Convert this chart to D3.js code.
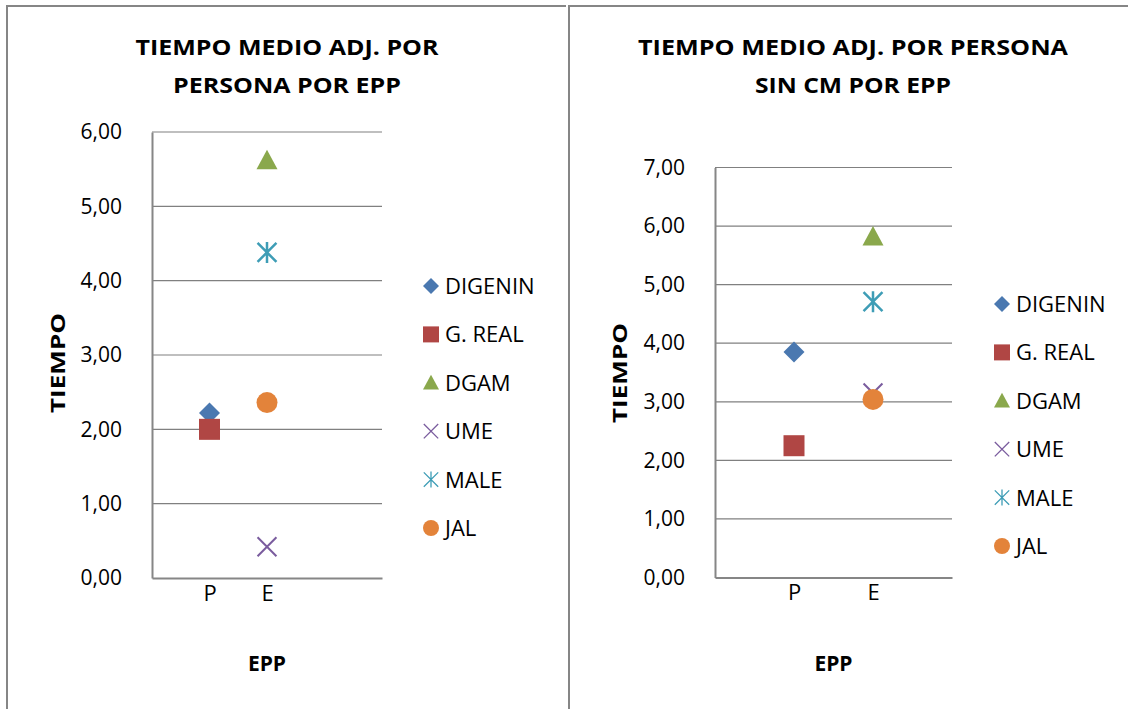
<!DOCTYPE html>
<html>
<head>
<meta charset="utf-8">
<script src="https://cdn.jsdelivr.net/npm/d3@7"></script>
<style>
  body { margin: 0; background: #fff; }
  svg { display: block; }
  text { font-family: "Open Sans", "DejaVu Sans", sans-serif; fill: #000; }
  .grid line { stroke: #808080; stroke-width: 1.2; }
  .axis path, .axis line { stroke: #868686; }
  .title { font-weight: bold; }
  .axis-title { font-weight: bold; }
</style>
</head>
<body>
<svg id="chart" width="1128" height="709"></svg>
<script>
// categories sit on positions 1 and 2 of the x axis
var categories = ["P", "E"];
var seriesNames = ["DIGENIN", "G. REAL", "DGAM", "UME", "MALE", "JAL"];
var seriesColors = ["#4a78b0", "#b04644", "#8aa84c", "#7a5c9e", "#3e9db6", "#e3833a"];
var seriesMarkers = ["diamond", "square", "triangle", "x", "star", "circle"];

// values per series: [P, E]
var leftValues = [
  [2.22, null],
  [2.00, null],
  [null, 5.62],
  [null, 0.42],
  [null, 4.38],
  [null, 2.36]
];
var rightValues = [
  [3.85, null],
  [2.25, null],
  [null, 5.82],
  [null, 3.15],
  [null, 4.71],
  [null, 3.04]
];
var leftTitle = ["TIEMPO MEDIO ADJ. POR", "PERSONA POR EPP"];
var rightTitle = ["TIEMPO MEDIO ADJ. POR PERSONA", "SIN CM POR EPP"];
var leftYTicks = [0, 1, 2, 3, 4, 5, 6];
var rightYTicks = [0, 1, 2, 3, 4, 5, 6, 7];

var svg = d3.select("#chart");
var fmt = function(v){ return d3.format(".2f")(v).replace(".", ","); };

/* draws one marker shape centred at 0,0 */
function marker(g, type, color, s, sw) {
  var h = s / 2;
  if (type === "diamond") {
    g.append("path").attr("d", "M0," + (-h) + "L" + h + ",0L0," + h + "L" + (-h) + ",0Z").attr("fill", color);
  } else if (type === "square") {
    g.append("rect").attr("x", -h).attr("y", -h).attr("width", s).attr("height", s).attr("fill", color);
  } else if (type === "triangle") {
    g.append("path").attr("d", "M0," + (-h) + "L" + h + "," + (h * 0.85) + "L" + (-h) + "," + (h * 0.85) + "Z").attr("fill", color);
  } else if (type === "circle") {
    g.append("circle").attr("r", h).attr("fill", color);
  } else {
    var k = h * 0.9;
    var p = "M" + (-k) + "," + (-k) + "L" + k + "," + k + "M" + k + "," + (-k) + "L" + (-k) + "," + k;
    if (type === "star") p += "M0," + (-h) + "L0," + h;
    g.append("path").attr("d", p).attr("stroke", color).attr("stroke-width", sw).attr("fill", "none");
  }
}

function drawChart(opts) {
  var g = svg.append("g").attr("class", "chart-box");

  // outer frame (only top and left edges are in view)
  g.append("path")
    .attr("d", "M" + opts.frame.x + ",709V" + opts.frame.y + "H" + (opts.frame.x + opts.frame.w))
    .attr("stroke", "#868686").attr("stroke-width", 2).attr("fill", "none");

  var x = d3.scaleLinear().domain([0, opts.xMax]).range([opts.plot.left, opts.plot.right]);
  var y = d3.scaleLinear().domain([0, opts.yMax]).range([opts.plot.bottom, opts.plot.top]);

  // gridlines
  g.append("g").attr("class", "grid")
    .selectAll("line").data(opts.yTicks.filter(function(d){ return d > 0; }))
    .enter().append("line")
      .attr("x1", opts.plot.left).attr("x2", opts.plot.right)
      .attr("y1", function(d){ return y(d); }).attr("y2", function(d){ return y(d); });

  // y axis
  var ya = g.append("g").attr("class", "axis axis-y")
    .attr("transform", "translate(" + opts.plot.left + ",0)")
    .call(d3.axisLeft(y).tickValues(opts.yTicks).tickFormat(fmt).tickSize(0).tickPadding(30));
  ya.select(".domain").attr("stroke-width", 2);
  ya.selectAll("text").style("font-size", "21px").attr("fill", "#000");

  // x axis
  var xa = g.append("g").attr("class", "axis axis-x")
    .attr("transform", "translate(0," + opts.plot.bottom + ")")
    .call(d3.axisBottom(x).tickValues([1, 2]).tickFormat(function(d){ return categories[d - 1]; }).tickSize(0).tickPadding(7));
  xa.select(".domain").attr("stroke-width", 2);
  xa.selectAll("text").style("font-size", "22px").attr("fill", "#000");

  // points
  opts.values.forEach(function(vals, si){
    vals.forEach(function(v, ci){
      if (v === null) return;
      var mg = g.append("g").attr("transform", "translate(" + x(ci + 1) + "," + y(v) + ")");
      marker(mg, seriesMarkers[si], seriesColors[si], 21, seriesMarkers[si] === "star" ? 2.5 : 2);
    });
  });

  // title
  opts.title.forEach(function(line, i){
    g.append("text").attr("class", "title")
      .attr("x", opts.titleX).attr("y", 55 + i * 38)
      .attr("text-anchor", "middle")
      .style("font-size", "22px")
      .attr("textLength", opts.titleLen[i]).attr("lengthAdjust", "spacingAndGlyphs")
      .text(line);
  });

  // axis titles
  g.append("text").attr("class", "axis-title")
    .attr("transform", "translate(" + (opts.yTitleX) + "," + opts.yTitleY + ") rotate(-90)")
    .attr("text-anchor", "middle").attr("dy", "0.35em")
    .style("font-size", "20px")
    .attr("textLength", 100).attr("lengthAdjust", "spacingAndGlyphs")
    .text("TIEMPO");
  g.append("text").attr("class", "axis-title")
    .attr("x", (opts.plot.left + opts.plot.right) / 2).attr("y", 664)
    .attr("text-anchor", "middle").attr("dy", "0.35em")
    .style("font-size", "21px").text("EPP");

  // legend
  var lg = g.append("g").attr("class", "legend")
    .attr("transform", "translate(" + opts.legend.x + "," + opts.legend.y + ")");
  seriesNames.forEach(function(name, i){
    var row = lg.append("g").attr("transform", "translate(0," + (i * 48.4) + ")");
    marker(row, seriesMarkers[i], seriesColors[i], 16, 1.3);
    row.append("text").attr("x", 14).attr("dy", "0.36em")
      .style("font-size", "22px").text(name);
  });
}

drawChart({
  frame: { x: 7, y: 6, w: 559 },
  plot: { left: 152, right: 382, top: 132, bottom: 578 },
  xMax: 4, yMax: 6, yTicks: leftYTicks,
  values: leftValues,
  title: leftTitle, titleX: 287, titleLen: [303, 228],
  yTitleX: 58, yTitleY: 363,
  legend: { x: 431, y: 286 }
});

drawChart({
  frame: { x: 569, y: 6, w: 570 },
  plot: { left: 715, right: 952, top: 167.5, bottom: 577.5 },
  xMax: 3, yMax: 7, yTicks: rightYTicks,
  values: rightValues,
  title: rightTitle, titleX: 853, titleLen: [430, 196],
  yTitleX: 620, yTitleY: 373,
  legend: { x: 1002, y: 304 }
});
</script>
</body>
</html>
